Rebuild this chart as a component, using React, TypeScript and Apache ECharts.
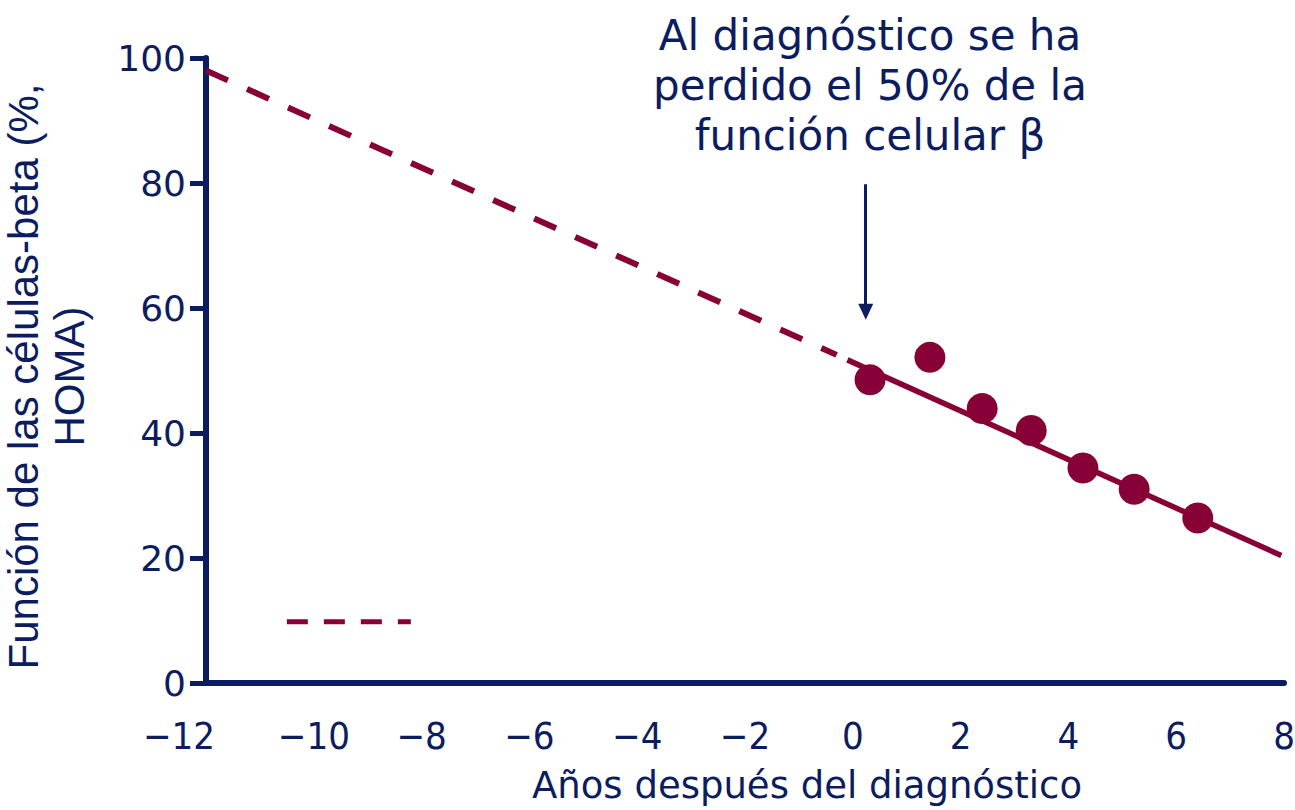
import React, { useEffect, useRef } from "react";
import * as echarts from "echarts";

const NAVY = "#0c1c60";
const MAROON = "#870036";

// x-axis ticks
const xTicks = [-12, -10, -8, -6, -4, -2, 0, 2, 4, 6, 8];
// Observed beta-cell function (HOMA %) by years after diagnosis
const obsYears = [0.32, 1.43, 2.4, 3.31, 4.27, 5.22, 6.4];
const obsValues = [48.5, 52.1, 43.9, 40.4, 34.4, 31.0, 26.4];
// Extrapolated (dashed) trend before diagnosis
const dashedYears = [-12, -0.3];
const dashedValues = [98.0, 52.5];
// Fitted (solid) trend after diagnosis
const solidYears = [-0.1, 7.95];
const solidValues = [51.7, 20.4];
// Short dashed legend sample
const legendYears = [-10.5, -8.2];
const legendValues = [9.8, 9.8];
// Arrow annotation (x, y top, y end)
const arrowYear = 0.24;
const arrowFrom = 79.8;
const arrowTo = 59.4;

const annotation = "Al diagnóstico se ha\nperdido el 50% de la\nfunción celular β";

const zip = (xs: number[], ys: number[]) => xs.map((x, i) => [x, ys[i]]);

export default function App() {
  const ref = useRef<HTMLDivElement>(null);
  useEffect(() => {
    if (!ref.current) return;
    const chart = echarts.init(ref.current, undefined, { renderer: "svg" });
    const fmt = (v: number) => (v < 0 ? "\u2212" + Math.abs(v) : String(v));
    chart.setOption({
      animation: false,
      backgroundColor: "#ffffff",
      grid: {
        left: 206,
        right: 11,
        top: 58,
        bottom: 127,
        containLabel: false,
        outerBoundsMode: "none",
      },
      xAxis: {
        type: "value",
        min: xTicks[0],
        max: xTicks[xTicks.length - 1],
        interval: 2,
        splitLine: { show: false },
        axisTick: { show: false },
        axisLine: { show: true, onZero: false, lineStyle: { color: NAVY, width: 6 } },
        axisLabel: {
          show: true,
          showMinLabel: true,
          showMaxLabel: true,
          margin: 34,
          color: NAVY,
          fontFamily: "'DejaVu Sans Condensed', 'Liberation Sans', sans-serif",
          fontSize: 38,
          formatter: (v: number) => (v === xTicks[0] ? "{first|" + fmt(v) + "}" : fmt(v)),
          rich: {
            first: {
              padding: [0, 54, 0, 0],
              color: NAVY,
              fontFamily: "'DejaVu Sans Condensed', 'Liberation Sans', sans-serif",
              fontSize: 38,
            },
          },
        },
        name: "Años después del diagnóstico",
        nameLocation: "middle",
        nameGap: 84,
        nameTextStyle: {
          color: NAVY,
          fontFamily: "'DejaVu Sans', sans-serif",
          fontSize: 37,
          padding: [0, 0, 0, 124],
        },
      },
      yAxis: {
        type: "value",
        min: 0,
        max: 100,
        interval: 20,
        splitLine: { show: false },
        axisLine: { show: true, onZero: false, lineStyle: { color: NAVY, width: 6 } },
        axisTick: { show: true, inside: false, length: 16, lineStyle: { color: NAVY, width: 5 } },
        axisLabel: {
          margin: 20,
          color: NAVY,
          fontFamily: "'DejaVu Sans', sans-serif",
          fontSize: 36,
        },
        name: "Función de las células-beta (%,\nHOMA)",
        nameLocation: "middle",
        nameRotate: 90,
        nameGap: 114,
        nameTextStyle: {
          color: NAVY,
          fontFamily: "'Liberation Sans', Arial, sans-serif",
          fontSize: 42,
          lineHeight: 46,
          align: "center",
          padding: [0, 12, 0, 0],
        },
      },
      graphic: [
        {
          type: "text",
          z: 10,
          style: {
            text: annotation,
            x: 870,
            y: 10,
            textAlign: "center",
            textVerticalAlign: "top",
            fontFamily: "'DejaVu Sans', sans-serif",
            fontSize: 42,
            lineHeight: 50,
            fill: NAVY,
          },
        },
      ],
      series: [
        {
          type: "line",
          data: zip(dashedYears, dashedValues),
          symbol: "none",
          lineStyle: { color: MAROON, width: 6, type: [24, 21], cap: "butt" },
          z: 2,
        },
        {
          type: "line",
          data: zip(legendYears, legendValues),
          symbol: "none",
          lineStyle: { color: MAROON, width: 5, type: [21, 16], cap: "butt" },
          z: 2,
        },
        {
          type: "line",
          data: zip(solidYears, solidValues),
          symbol: "none",
          lineStyle: { color: MAROON, width: 5.5, type: "solid" },
          z: 2,
          markLine: {
            silent: true,
            symbol: ["none", "triangle"],
            symbolSize: [15, 16],
            label: { show: false },
            lineStyle: { color: NAVY, width: 3, type: "solid" },
            data: [[{ coord: [arrowYear, arrowFrom] }, { coord: [arrowYear, arrowTo] }]],
          },
        },
        {
          type: "scatter",
          data: zip(obsYears, obsValues),
          symbol: "circle",
          symbolSize: 31,
          itemStyle: { color: MAROON, opacity: 1 },
          z: 3,
        },
      ],
    });
    return () => chart.dispose();
  }, []);
  return (
    <div
      ref={ref}
      style={{ position: "fixed", left: 0, top: 0, width: 1295, height: 810, background: "#fff" }}
    />
  );
}
